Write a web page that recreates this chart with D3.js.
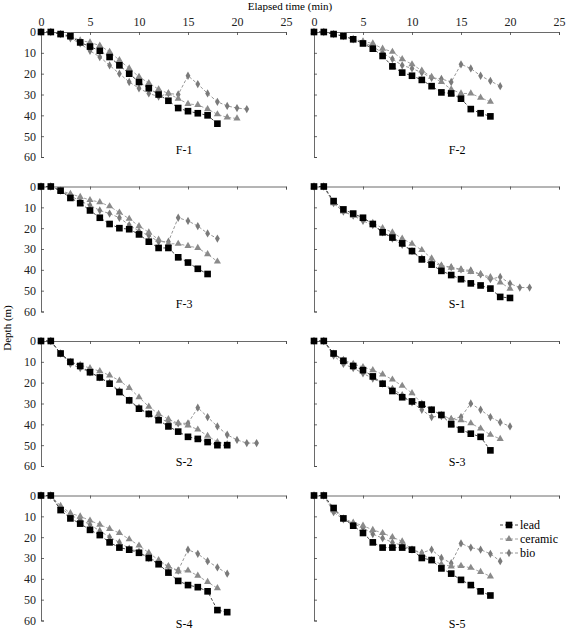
<!DOCTYPE html>
<html>
<head>
<meta charset="utf-8">
<script src="https://cdn.jsdelivr.net/npm/d3@7"></script>
<style>
  body { margin: 0; background: #fff; }
  svg text { font-family: "Times New Roman", Times, "Liberation Serif", serif; }
  .axis path, .axis line { stroke: #444; stroke-width: 0.8; }
  .axis text { font-size: 12px; fill: #222; font-family: "Times New Roman", Times, "Liberation Serif", serif; }
</style>
</head>
<body>
<div id="chart"></div>
<script>
// panels in reading order, depth (m) at each elapsed minute 0,1,2,...
var panelNames = ["F-1", "F-2", "F-3", "S-1", "S-2", "S-3", "S-4", "S-5"];
var seriesNames = ["lead", "ceramic", "bio"];
var timeTicks = [0, 5, 10, 15, 20, 25];
var depthTicks = [0, 10, 20, 30, 40, 50, 60];

var lead = [
  [0,0,1,2,5,7,9,12,16,20,24,27,30,33,36.5,38,39,40,44],
  [0,0,1,2,3.5,5.5,8,11.5,16.5,19.5,21,23,26,29,29.5,32,37,39,40.5],
  [0,0,2,5.5,8,11.5,15,18,20,20.5,23,26.5,29.5,29.5,34,36.5,39.5,42],
  [0,0,7,11,13,15,18,22,24.5,27.3,31,35,37.5,40.5,42.5,44.5,46.5,47.5,49,53,53.5],
  [0,0,6,10,12,15,17.5,20.5,24.5,28.5,32.5,35,38,41,43.5,46,47,48.5,50,50],
  [0,0,6,9.5,12,14,17,20.5,24,27,29,30.5,33,35.5,40,42.5,44.5,46,52.5],
  [0,0,7,11,13.5,16.5,19,22.5,25,26,27.5,30,33,37,41,43,44,46,55,56],
  [0,0,6,11,14.5,18,22.5,25,25,25,26,30,31,35,37.5,40.5,43,46,48]
];
var ceramic = [
  [0,0,1,2,4,5,6.5,9.5,13.5,17.5,21.5,24.5,27.5,29.5,32,34.5,35,37,39.5,41,41.5],
  [0,0,1,2,3.3,4.5,5.5,8,9.5,13,15.5,18.5,21.5,24,27.5,29.5,29.5,31.5,33.5],
  [0,0,2,3.5,5,6.5,7.5,9.5,12.5,15.5,19,22,25.5,27.5,27.5,28.5,29.5,32.5,36],
  [0,0,8,12,14,15.5,17.5,20,22,25,27.5,30.5,34.5,38,39,40,41,42,43.5,46,49],
  [0,0,6,10,11.5,13,14.5,16.5,19,22.5,27,31.5,35,37.5,39.5,40.5,42.5,45.5,48.5,49.5],
  [0,0,6,9,11,12.5,14,16,18.5,21.5,25,30,33,35.5,37.5,38,39.5,42,45,47],
  [0,0,5,8.5,10,12,14,16,18,21,24,27.5,31,34,36.5,36,38.5,41.5,44.5],
  [0,0,7,11,13,14.5,16.5,18,20,22,26,28,31,33,34,33.8,34.7,36.7,38.8]
];
var bio = [
  [0,0,1,3,5.5,9,12,16,20,24,27,29.5,31,29.5,30,21,25,29.5,33.5,35.5,36.5,37],
  [0,0,1,2,3.5,5,7,10,13,16,17.5,19.5,22,22.5,24,15.5,17.5,21,23.5,26],
  [0,0,2,4.5,7,9,11.5,13,15,18.5,21.5,23.5,26.5,26.5,15,16.5,19,22.5,25],
  [0,0,8,12,14,16.5,18.5,22,25,28,31,34.5,36.5,38,38.7,39.8,40.3,42.2,44.5,43.4,46.6,48.5,48.5],
  [0,0,6,11,13,15,17.5,20,24,28.5,32,35,37,39,39.5,39.5,32,36.5,41,45,47.5,49,49],
  [0,0,7,11,13,15.5,18,20.5,23,26,29.5,33,36.5,36,37.5,36.5,30,33,36.5,39,41],
  [0,0,6,9.5,11.5,14,17,20,22.5,25.5,27,30,32,34,36,26,28,31.5,34.5,37.5],
  [0,0,8,11.5,13.5,15.5,18.5,20.5,22.5,24,26,27.5,26,30,32.5,23,25,26,28,31.5]
];

var width = 568, height = 636;
var colLeft = [41, 314], panelW = 245;
var rowTop = [32, 186.5, 341, 495.5], panelH = 125;
var labelDy = [122, 121, 125, 132];

var styles = {
  lead:    { data: lead,    symbol: d3.symbolSquare,   size: 44, fill: "#000",    line: "#333" },
  ceramic: { data: ceramic, symbol: d3.symbolTriangle, size: 22, fill: "#8a8a8a", line: "#999" },
  bio:     { data: bio,     symbol: d3.symbolDiamond,  size: 20, fill: "#7a7a7a", line: "#8a8a8a" }
};

var svg = d3.select("#chart").append("svg")
  .attr("width", width)
  .attr("height", height);

panelNames.forEach(function(name, p) {
  var row = Math.floor(p / 2), col = p % 2;
  var x = d3.scaleLinear().domain([0, 25]).range([colLeft[col], colLeft[col] + panelW]);
  var y = d3.scaleLinear().domain([0, 60]).range([rowTop[row], rowTop[row] + panelH]);

  var g = svg.append("g").attr("class", "panel");

  // top axis, labels only on the first row
  g.append("g")
    .attr("class", "axis")
    .attr("transform", "translate(0," + y(0) + ")")
    .call(d3.axisTop(x).tickValues(timeTicks).tickSize(-3).tickSizeOuter(-3).tickPadding(6)
      .tickFormat(row == 0 ? d3.format("d") : ""));

  // left axis, labels only on the left column
  g.append("g")
    .attr("class", "axis")
    .attr("transform", "translate(" + x(0) + ",0)")
    .call(d3.axisLeft(y).tickValues(depthTicks).tickSize(-3).tickSizeOuter(-3).tickPadding(5)
      .tickFormat(col == 0 ? d3.format("d") : ""));

  // series, lead drawn last so it sits on top
  ["bio", "ceramic", "lead"].forEach(function(s) {
    var st = styles[s];
    var vals = st.data[p];
    var line = d3.line()
      .x(function(d, i) { return x(i); })
      .y(function(d) { return y(d); });

    g.append("path")
      .datum(vals)
      .attr("d", line)
      .attr("fill", "none")
      .attr("stroke", st.line)
      .attr("stroke-width", 0.9)
      .attr("stroke-dasharray", "3,2");

    g.selectAll("path.m-" + s)
      .data(vals)
      .enter()
      .append("path")
      .attr("class", "m-" + s)
      .attr("d", d3.symbol().type(st.symbol).size(st.size))
      .attr("transform", function(d, i) { return "translate(" + x(i) + "," + y(d) + ")"; })
      .attr("fill", st.fill);
  });

  g.append("text")
    .attr("x", x(14.6))
    .attr("y", rowTop[row] + labelDy[row])
    .attr("text-anchor", "middle")
    .style("font-size", "12px")
    .text(name);
});

// axis titles
svg.append("text")
  .attr("x", 290)
  .attr("y", 10)
  .attr("text-anchor", "middle")
  .style("font-size", "11px")
  .text("Elapsed time (min)");

svg.append("text")
  .attr("transform", "translate(11,328) rotate(-90)")
  .attr("text-anchor", "middle")
  .style("font-size", "11px")
  .text("Depth (m)");

// legend in the last panel
var legend = svg.append("g").attr("transform", "translate(500,525)");
seriesNames.forEach(function(s, i) {
  var st = styles[s];
  var item = legend.append("g").attr("transform", "translate(0," + (i * 14) + ")");
  item.append("line")
    .attr("x1", 0).attr("x2", 18)
    .attr("stroke", st.line)
    .attr("stroke-width", 0.9)
    .attr("stroke-dasharray", "3,2");
  item.append("path")
    .attr("d", d3.symbol().type(st.symbol).size(st.size))
    .attr("transform", "translate(9,0)")
    .attr("fill", st.fill);
  item.append("text")
    .attr("x", 20)
    .attr("y", 4)
    .style("font-size", "12px")
    .text(s);
});
</script>
</body>
</html>
